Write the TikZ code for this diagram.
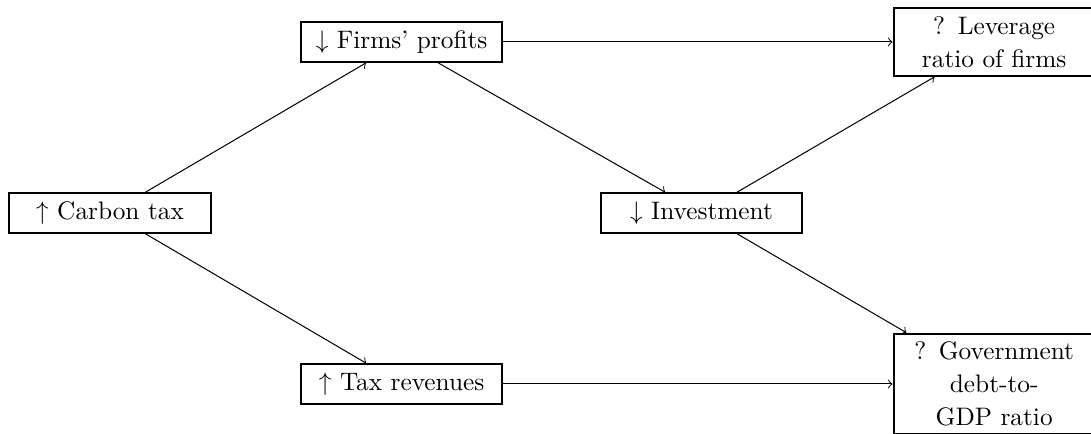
\documentclass[tikz,border=0pt]{standalone}
\usepackage{amsmath, amssymb}
\usepackage{tikz}
\usetikzlibrary{calc,shapes, arrows}

\begin{document}
\begin{tikzpicture}[box/.style={draw, thick, text width=2.56cm, align=center,
        font=\fontsize{10}{12.9}\selectfont}]
        \useasboundingbox (-1.528,-3.056) rectangle (13.625,2.958);
        \node[box] (carbon) at (0,0) {$\uparrow$ Carbon tax};
        \node[box] (profits) at (4.05,2.375) {$\downarrow$ Firms' profits};
        \node[box] (revenues) at (4.05,-2.375) {$\uparrow$ Tax revenues};
        \node[box] (invest) at (8.215,0) {$\downarrow$ Investment};
        \node[box] (leverage) at (12.28,2.375) {? Leverage\\ ratio of firms};
        \node[box] (debt) at (12.28,-2.375) {? Government\\ debt-to-\\ GDP ratio};
        \draw[->] (carbon) -- (profits);
        \draw[->] (carbon) -- (revenues);
        \draw[->] (profits) -- (leverage);
        \draw[->] (profits) -- (invest);
        \draw[->] (invest) -- (leverage);
        \draw[->] (invest) -- (debt);
        \draw[->] (revenues) -- (debt);
    \end{tikzpicture}
\end{document}
